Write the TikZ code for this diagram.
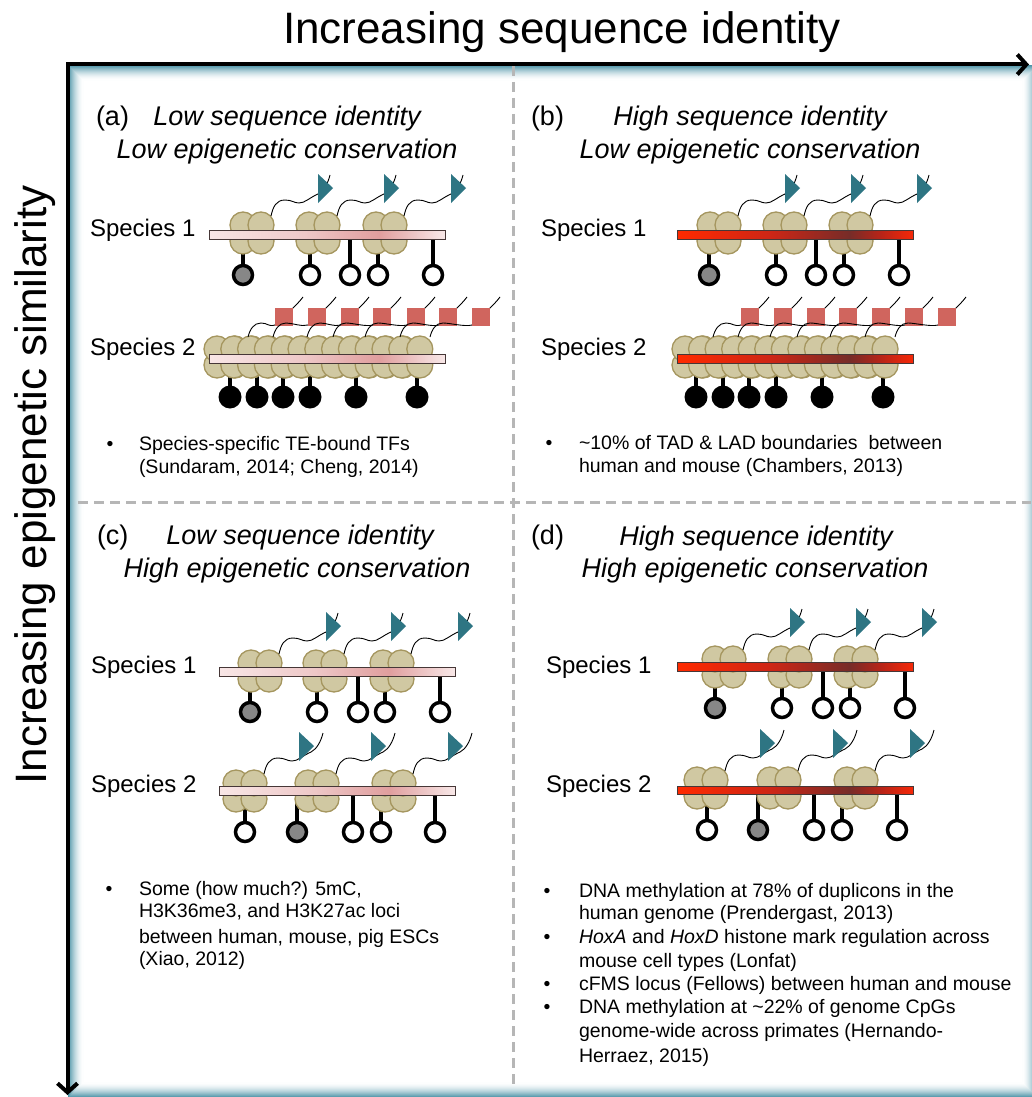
\documentclass[tikz,border=0pt]{standalone}
\usepackage{fontspec}
\setmainfont{Liberation Sans}
\usetikzlibrary{arrows.meta}

\definecolor{frameteal}{RGB}{74,146,166}
\definecolor{divgray}{RGB}{182,182,182}
\definecolor{nucfill}{RGB}{208,200,162}
\definecolor{nucedge}{RGB}{165,150,95}
\definecolor{tfteal}{RGB}{46,117,131}
\definecolor{marksq}{RGB}{208,101,94}
\definecolor{beadgray}{RGB}{135,135,135}
\definecolor{baredge}{RGB}{70,55,55}
\definecolor{pinkA}{RGB}{248,230,230}
\definecolor{pinkB}{RGB}{238,200,200}
\definecolor{pinkC}{RGB}{224,158,158}
\definecolor{pinkD}{RGB}{248,232,232}
\definecolor{redA}{RGB}{255,42,0}
\definecolor{redB}{RGB}{205,38,22}
\definecolor{redC}{RGB}{118,44,40}
\definecolor{redD}{RGB}{182,36,24}
\definecolor{redE}{RGB}{246,40,8}

% the visible part of a fitted shading is 25bp..75bp
\pgfdeclarehorizontalshading{pinkbar}{100bp}{color(0bp)=(pinkA); color(25bp)=(pinkA); color(45bp)=(pinkB); color(61bp)=(pinkC); color(75bp)=(pinkD); color(100bp)=(pinkD)}
\pgfdeclarehorizontalshading{redbar}{100bp}{color(0bp)=(redA); color(25bp)=(redA); color(45bp)=(redB); color(61.5bp)=(redC); color(68bp)=(redD); color(75bp)=(redE); color(100bp)=(redE)}

% nucleosome: four overlapping discs around a centre
\newcommand{\epNuc}[2]{%
  \foreach \ddx/\ddy in {-9/8,-9/-8,9/8,9/-8}{%
    \filldraw[nucl] ({#1+\ddx},{#2+\ddy}) circle (13);}}
% histone tail ending in a transcription-factor flag (#3 = flag offset)
\newcommand{\epFlag}[3]{%
  \draw[tl] ({#1+19},{#2-17}) .. controls ({#1+21},{#2-26}) and ({#1+24},{#2-33}) .. ({#1+33},{#2-33})
     .. controls ({#1+40},{#2-33}) and ({#1+42},{#2-30}) .. ({#1+47},{#2-30})
     .. controls ({#1+53},{#2-30}) and ({#1+57},{#2-35}) .. ({#1+66},{#2-39})
     .. controls ({#1+72},{#2-42}) and ({#1+76},{#2-50}) .. ({#1+78},{#2-58});
  \fill[tri] ({#1+#3},{#2-59}) -- ({#1+#3},{#2-30}) -- ({#1+#3+15},{#2-45}) -- cycle;}
% histone tail carrying a square mark: start x, square centre x, square centre y
\newcommand{\epSq}[3]{%
  \draw[tl] (#1,{#3+20}) .. controls ({#1+2},{#3+12}) and ({#1+6},{#3+6}) .. ({#1+13},{#3+6})
     .. controls ({#1+20},{#3+6}) and ({#2-16},{#3+10}) .. ({#2-9},{#3+8})
     -- ({#2+9},{#3-9}) .. controls ({#2+13},{#3-13}) and ({#2+16},{#3-16}) .. ({#2+19},{#3-20});
  \fill[sqm] ({#2-9},{#3-9}) rectangle ({#2+9},{#3+9});}
% lollipop CpG: x, stem top, bead centre, bead fill
\newcommand{\epLol}[4]{%
  \draw[stm] (#1,#2) -- (#1,#3);
  \filldraw[bd, fill=#4] (#1,#3) circle (9.5);}
% methylated CpG (solid bead)
\newcommand{\epDot}[3]{%
  \draw[stm] (#1,#2) -- (#1,#3);
  \fill (#1,#3) circle (11.5);}

\begin{document}
\begin{tikzpicture}[x=1pt,y=-1pt,
  every node/.style={inner sep=0pt, outer sep=0pt},
  ttl/.style={font=\fontsize{44}{50}\selectfont},
  hd/.style={font=\fontsize{27}{32}\selectfont\itshape, anchor=base},
  tg/.style={font=\fontsize{27}{32}\selectfont, anchor=base west},
  spc/.style={font=\fontsize{24}{29}\selectfont, anchor=base west},
  nt/.style={font=\fontsize{19.5}{23}\selectfont, anchor=base west},
  bul/.style={font=\fontsize{19.5}{23}\selectfont, anchor=base},
  nucl/.style={fill=nucfill, draw=nucedge, line width=1.3pt},
  tl/.style={draw=black, line width=0.9pt},
  tri/.style={fill=tfteal},
  sqm/.style={fill=marksq},
  stm/.style={draw=black, line width=4pt},
  bd/.style={draw=black, line width=3.5pt},
  pinkdna/.style={shading=pinkbar, draw=baredge, line width=0.8pt},
  reddna/.style={shading=redbar, draw=baredge, line width=0.8pt},
  dvd/.style={draw=divgray, line width=3pt, dash pattern=on 10pt off 6pt},
  axs/.style={draw=black, line width=4pt, line join=miter}]

\useasboundingbox (0,0) rectangle (1031,1097);
\fill[white] (0,0) rectangle (1031,1097);

% bevelled teal frame
\foreach \i in {0,...,14}{
  \pgfmathsetmacro{\shadeP}{100*(1-\i/15)^1.7}
  \draw[draw=frameteal!\shadeP!white, line width=1.2pt] ({69+\i},{66+\i}) rectangle ({1037-\i},{1097-\i});
}

% quadrant dividers
\coordinate (vtop) at (513,66);
\coordinate (vbot) at (513,1086);
\coordinate (hleft) at (78,502);
\coordinate (hright) at (1031,502);
\draw[dvd] (vtop) -- (vbot);
\draw[dvd] (hleft) -- (hright);

% axes
\coordinate (corner) at (67.5,64.5);
\coordinate (xtip) at (1029,64.5);
\coordinate (ytip) at (67.5,1095);
\draw[axs, {Straight Barb[length=9pt,width=20pt]}-{Straight Barb[length=9pt,width=20pt]}] (xtip) -- (corner) -- (ytip);

\node[ttl, anchor=base] (xlabel) at (562,44) {Increasing sequence identity};
\node[ttl, anchor=base, rotate=90] (ylabel) at (46,485) {Increasing epigenetic similarity};

% ---------------- (a)
\node[tg] (taga) at (96,126) {(a)};
\node[hd] (ha1) at (287,126) {Low sequence identity};
\node[hd] (ha2) at (287,158) {Low epigenetic conservation};
\node[spc] (sa1) at (90,236) {Species 1};
\node[spc] (sa2) at (90,355) {Species 2};

\epLol{243}{239}{275}{beadgray}
\foreach \x in {310,350,378,433} {\epLol{\x}{239}{275}{white}}
\foreach \x in {252,318,385} {\epNuc{\x}{233}}
\shadedraw[pinkdna] (209,230) rectangle (445,239);
\foreach \x in {252,318,385} {\epFlag{\x}{233}{66}}

\foreach \x in {230,257,283,310,356,417} {\epDot{\x}{363}{397}}
\foreach \k in {0,...,11} {\epNuc{226+16.8*\k}{357}}
\shadedraw[pinkdna] (209,354) rectangle (445,363);
\foreach \s/\c in {248/284,273/317,307/350,333/382,365/416,400/448,430/481} {\epSq{\s}{\c}{317}}

\node[bul] (ba) at (110,450) {•};
\node[nt] (na1) at (139,450) {Species-specific TE-bound TFs};
\node[nt] (na2) at (139,473) {(Sundaram, 2014; Cheng, 2014)};

% ---------------- (b)
\node[tg] (tagb) at (531,126) {(b)};
\node[hd] (hb1) at (750,126) {High sequence identity};
\node[hd] (hb2) at (750,158) {Low epigenetic conservation};
\node[spc] (sb1) at (541,236) {Species 1};
\node[spc] (sb2) at (541,355) {Species 2};

\epLol{709}{239}{275}{beadgray}
\foreach \x in {776,816,844,899} {\epLol{\x}{239}{275}{white}}
\foreach \x in {719,785,851} {\epNuc{\x}{233}}
\shadedraw[reddna] (677,230) rectangle (913,239);
\foreach \x in {719,785,851} {\epFlag{\x}{233}{66}}

\foreach \x in {696,723,749,776,822,883} {\epDot{\x}{363}{397}}
\foreach \k in {0,...,11} {\epNuc{694+16.55*\k}{357}}
\shadedraw[reddna] (677,354) rectangle (913,363);
\foreach \s/\c in {713/750,738/783,770/816,797/848,830/881,865/914,895/947} {\epSq{\s}{\c}{317}}

\node[bul] (bb) at (549,449) {•};
\node[nt] (nb1) at (579,449) {\textasciitilde10\% of TAD \& LAD boundaries\ \ between};
\node[nt] (nb2) at (579,472) {human and mouse (Chambers, 2013)};

% ---------------- (c)
\node[tg] (tagc) at (97,544) {(c)};
\node[hd] (hc1) at (300,544) {Low sequence identity};
\node[hd] (hc2) at (297,577) {High epigenetic conservation};
\node[spc] (sc1) at (91,673) {Species 1};
\node[spc] (sc2) at (91,792) {Species 2};

\epLol{250}{676}{712}{beadgray}
\foreach \x in {317,358,385,440} {\epLol{\x}{676}{712}{white}}
\foreach \x in {260,325,392} {\epNuc{\x}{671}}
\shadedraw[pinkdna] (219,667) rectangle (455,676);
\foreach \x in {260,325,392} {\epFlag{\x}{671}{66}}

\epLol{297}{795}{832}{beadgray}
\foreach \x in {245,353,381,435} {\epLol{\x}{795}{832}{white}}
\foreach \x in {245,317,394} {\epNuc{\x}{791}}
\shadedraw[pinkdna] (219,786) rectangle (455,795);
\foreach \x in {245,317,394} {\epFlag{\x}{791}{54}}

\node[bul] (bc) at (109,895) {•};
\node[nt] (nc1) at (139,895) {Some (how much?) 5mC,};
\node[nt] (nc2) at (139,917) {H3K36me3, and H3K27ac loci};
\node[nt] (nc3) at (139,943) {between human, mouse, pig ESCs};
\node[nt] (nc4) at (139,965) {(Xiao, 2012)};

% ---------------- (d)
\node[tg] (tagd) at (531,544) {(d)};
\node[hd] (hd1) at (756,545) {High sequence identity};
\node[hd] (hd2) at (755,577) {High epigenetic conservation};
\node[spc] (sd1) at (546,673) {Species 1};
\node[spc] (sd2) at (546,792) {Species 2};

\epLol{715}{671}{708}{beadgray}
\foreach \x in {782,823,850,905} {\epLol{\x}{671}{708}{white}}
\foreach \x in {724,790,856} {\epNuc{\x}{667}}
\shadedraw[reddna] (677,662) rectangle (913,671);
\foreach \x in {724,790,856} {\epFlag{\x}{667}{66}}

\epLol{758}{794}{830}{beadgray}
\foreach \x in {707,814,842,897} {\epLol{\x}{794}{830}{white}}
\foreach \x in {706,779,856} {\epNuc{\x}{788}}
\shadedraw[reddna] (677,786) rectangle (913,794);
\foreach \x in {706,779,856} {\epFlag{\x}{788}{54}}

\node[bul] (bd1) at (547,897) {•};
\node[bul] (bd2) at (547,943) {•};
\node[bul] (bd3) at (547,990) {•};
\node[bul] (bd4) at (547,1013) {•};
\node[nt] (nd1) at (579,897) {DNA methylation at 78\% of duplicons in the};
\node[nt] (nd2) at (579,919) {human genome (Prendergast, 2013)};
\node[nt] (nd3) at (579,943) {\textit{HoxA} and \textit{HoxD} histone mark regulation across};
\node[nt] (nd4) at (579,967) {mouse cell types (Lonfat)};
\node[nt] (nd5) at (579,990) {cFMS locus (Fellows) between human and mouse};
\node[nt] (nd6) at (579,1013) {DNA methylation at \textasciitilde22\% of genome CpGs};
\node[nt] (nd7) at (579,1037) {genome-wide across primates (Hernando-};
\node[nt] (nd8) at (579,1062) {Herraez, 2015)};

\end{tikzpicture}
\end{document}
